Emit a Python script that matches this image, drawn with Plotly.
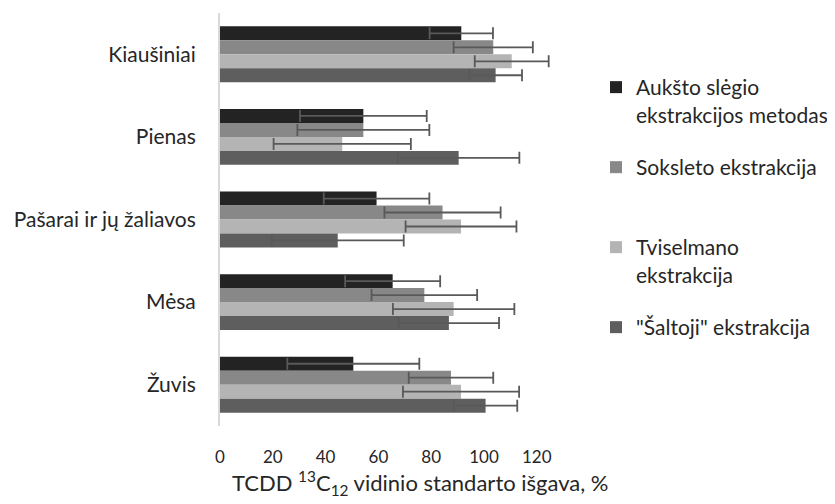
import plotly.graph_objects as go

categories = ["Kiaušiniai", "Pienas", "Pašarai ir jų žaliavos", "Mėsa", "Žuvis"]

series_names = [
    "Aukšto slėgio<br>ekstrakcijos metodas",
    "Soksleto ekstrakcija",
    "Tviselmano<br>ekstrakcija",
    "\"Šaltoji\" ekstrakcija",
]

aukšto_vals = [91.4, 54.3, 59.3, 65.4, 50.5]
aukšto_err = [12, 24, 20, 18, 25]
soksleto_vals = [103.5, 54.3, 84.3, 77.4, 87.5]
soksleto_err = [15, 25, 22, 20, 16]
tviselmano_vals = [110.5, 46.3, 91.3, 88.5, 91.3]
tviselmano_err = [14, 26, 21, 23, 22]
saltoji_vals = [104.4, 90.4, 44.6, 86.7, 100.6]
saltoji_err = [10, 23, 25, 19, 12]

tick_vals = [0, 20, 40, 60, 80, 100, 120]
x_title = "TCDD <sup>13</sup>C<sub>12</sub> vidinio standarto išgava, %"

colors = ["#232323", "#888888", "#b4b4b4", "#5e5e5e"]
values = [aukšto_vals, soksleto_vals, tviselmano_vals, saltoji_vals]
errors = [aukšto_err, soksleto_err, tviselmano_err, saltoji_err]
legend_ids = ["legend", "legend2", "legend3", "legend4"]

FONT = "Lato, Carlito, Calibri, sans-serif"
TXT = "#262626"

# the page body has an 8px margin; work in page pixels and convert
OFF = 8
W, H = 835 - OFF, 504 - OFF
PLOT_L, PLOT_R, PLOT_T, PLOT_B = 220, 830, 13, 426  # page pixels
L, T = PLOT_L - OFF, PLOT_T - OFF
R = W - (PLOT_R - OFF)
B = H - (PLOT_B - OFF)
PW = W - L - R
PH = H - T - B
PX_PER_UNIT = 2.64
X_MAX = PW / PX_PER_UNIT


def px_x(x):
    return (x - PLOT_L) / PW


def px_y(y):
    return (PLOT_B - y) / PH


fig = go.Figure()
for name, vals, errs, col, lg in zip(series_names, values, errors, colors, legend_ids):
    fig.add_trace(go.Bar(
        y=categories, x=vals, orientation="h", name=name,
        marker=dict(color=col, line=dict(width=0)),
        error_x=dict(type="data", array=errs, visible=True,
                     color="#595959", thickness=1.8, width=6),
        legend=lg,
    ))

legend_tops = [67, 147, 227, 307]
legend_layout = {}
for lg, top in zip(legend_ids, legend_tops):
    legend_layout[lg] = dict(
        x=px_x(596), y=px_y(top), xanchor="left", yanchor="top",
        font=dict(family=FONT, size=21, color=TXT),
        valign="top", bgcolor="rgba(0,0,0,0)", borderwidth=0,
        itemclick=False, itemdoubleclick=False,
    )

fig.update_layout(
    template="none",
    width=W, height=H,
    margin=dict(l=L, r=R, t=T, b=B, pad=0, autoexpand=False),
    paper_bgcolor="white", plot_bgcolor="white",
    barmode="group", bargap=0.323, bargroupgap=0,
    font=dict(family=FONT, size=20, color=TXT),
    showlegend=True,
    **legend_layout,
    xaxis=dict(
        range=[0, X_MAX], tickvals=tick_vals, showgrid=False, zeroline=False,
        showline=False, ticks="", ticklabelstandoff=19, automargin=False,
        tickfont=dict(family=FONT, size=17, color=TXT),
    ),
    yaxis=dict(
        autorange="reversed", showgrid=False, zeroline=False,
        showline=True, linecolor="#d9d9d9", linewidth=2,
        ticks="", ticklabelstandoff=18, automargin=False,
        tickfont=dict(family=FONT, size=21, color=TXT),
    ),
    annotations=[dict(
        text=x_title, xref="paper", yref="paper",
        x=px_x(420), y=px_y(483), xanchor="center", yanchor="middle",
        showarrow=False, font=dict(family=FONT, size=22, color=TXT),
    )],
)

fig.write_html("out.html")
